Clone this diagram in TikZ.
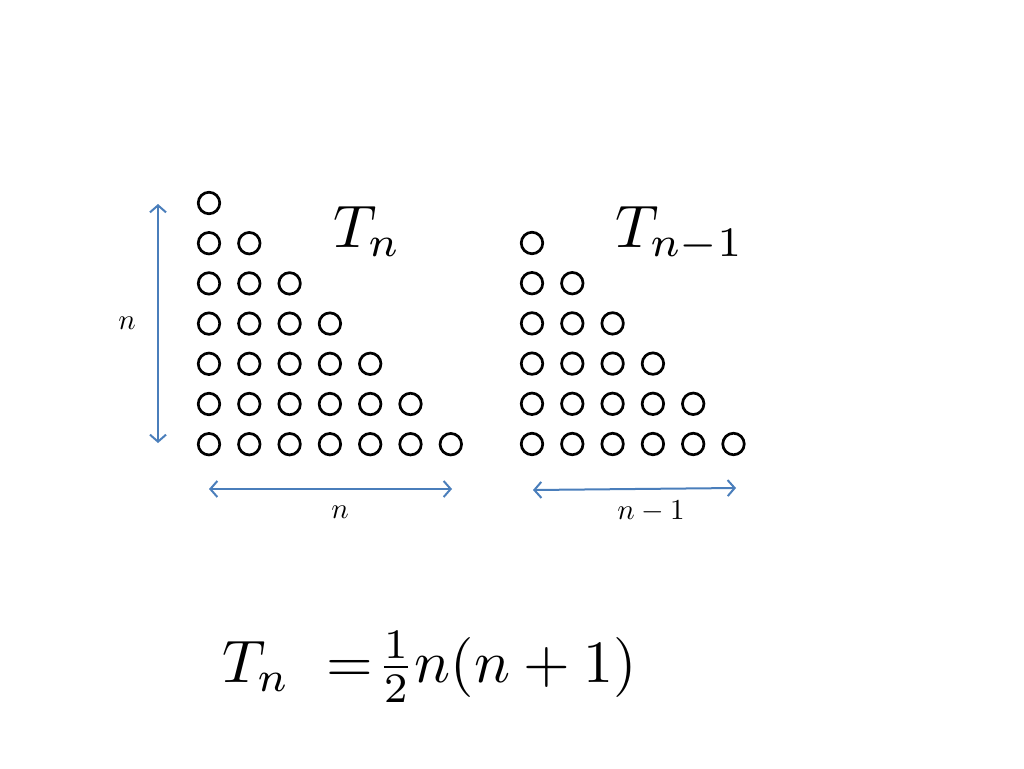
\documentclass[tikz,border=0pt]{standalone}
\usepackage{graphicx}
\usetikzlibrary{arrows.meta}
\definecolor{arrblue}{HTML}{4A7EBB}
\newcommand{\smalltxt}[1]{\scalebox{2.9}{#1}}
\newcommand{\bigtxt}[1]{\scalebox{6}{#1}}
\begin{document}
\begin{tikzpicture}[x=1pt,y=-1pt,
  dot/.style={circle,draw=black,line width=2.7pt,minimum size=21.5pt,inner sep=0pt},
  dim/.style={draw=arrblue,line width=2pt,{Straight Barb[length=7pt,width=16pt,line width=2pt]}-{Straight Barb[length=7pt,width=16pt,line width=2pt]}},
  small/.style={inner sep=0pt},
  big/.style={inner sep=0pt}]
\useasboundingbox (0,0) rectangle (1024,768);
% left triangle
\foreach \r in {1,...,7}{
  \foreach \c in {1,...,\r}{
    \node[dot] (L-\r-\c) at ({209+40.3*(\c-1)},{203+40.2*(\r-1)}) {};
  }
}
% right triangle
\foreach \r in {1,...,6}{
  \foreach \c in {1,...,\r}{
    \node[dot] (R-\r-\c) at ({532+40.3*(\c-1)},{243+40.2*(\r-1)}) {};
  }
}
% dimension arrows
\coordinate (va) at (158,204);
\coordinate (vb) at (158,443);
\draw[dim] (va) -- (vb);
\node[small] (nv) at (127,323) {\smalltxt{$n$}};
\coordinate (ha) at (209,489);
\coordinate (hb) at (452,489);
\draw[dim] (ha) -- (hb);
\node[small] (nh) at (340,512) {\smalltxt{$n$}};
\coordinate (ra) at (533,490);
\coordinate (rb) at (736,488);
\draw[dim] (ra) -- (rb);
\node[small] (nr) at (651,511) {\smalltxt{$n-1$}};
% titles
\node[big,anchor=base west] (tn) at (333,247) {\bigtxt{$T_n$}};
\node[big,anchor=base west] (tn1) at (615,247) {\bigtxt{$T_{n-1}$}};
% formula
\node[big,anchor=base west] (f) at (222,682) {\bigtxt{$T_n\mskip11mu{=}\mskip1mu{\textstyle\frac{1}{2}}n(n+1)$}};
\end{tikzpicture}
\end{document}
